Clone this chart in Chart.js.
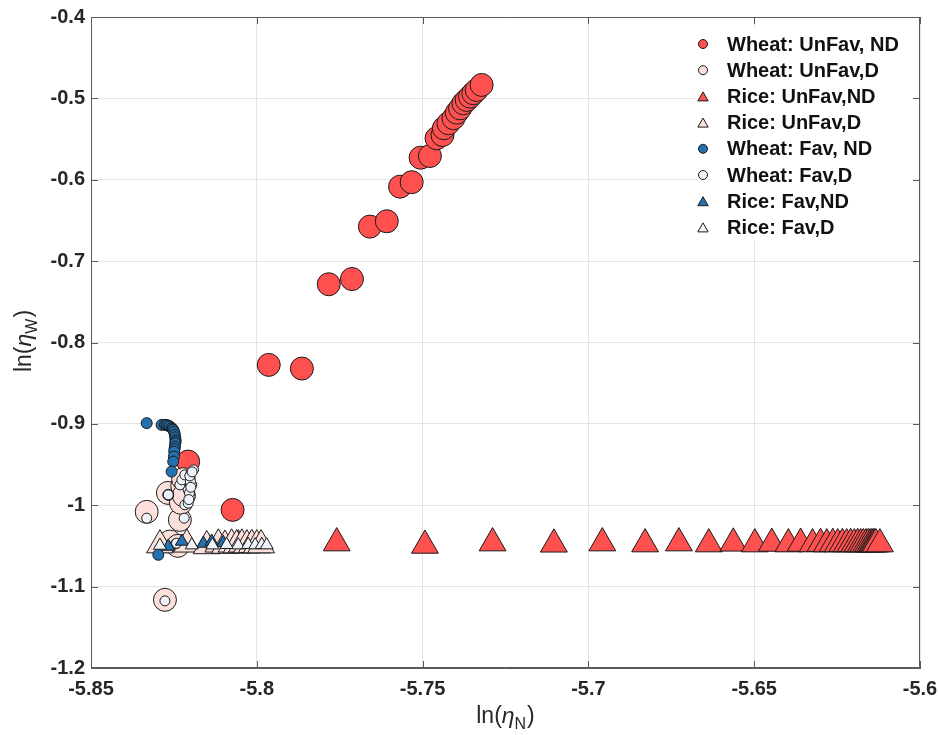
<!DOCTYPE html>
<html><head><meta charset="utf-8">
<script src="https://cdn.jsdelivr.net/npm/chart.js@4/dist/chart.umd.min.js"></script>
<style>html,body{margin:0;padding:0;background:#fff;}#wrap{width:938px;height:735px;}</style>
</head><body><div id="wrap"><canvas id="c" width="938" height="735"></canvas></div>
<script>
// ---- axis ticks ----
const xTicks = [-5.85, -5.8, -5.75, -5.7, -5.65, -5.6];
const yTicks = [-1.2, -1.1, -1, -0.9, -0.8, -0.7, -0.6, -0.5, -0.4];

// ---- series ----
const labels = ['Wheat: UnFav, ND','Wheat: UnFav,D','Rice: UnFav,ND','Rice: UnFav,D','Wheat: Fav, ND','Wheat: Fav,D','Rice: Fav,ND','Rice: Fav,D'];

const wheatUnfavND_x = [-5.8207,-5.8073,-5.7964,-5.7864,-5.7783,-5.7713,-5.7659,-5.7608,-5.7568,-5.7533,-5.7506,-5.7478,-5.7458,-5.7440,-5.7436,-5.7422,-5.7407,-5.7397,-5.7387,-5.7377,-5.7367,-5.7357,-5.7347,-5.7337,-5.7322];
const wheatUnfavND_y = [-0.9463,-1.0057,-0.8275,-0.8320,-0.7284,-0.7220,-0.6576,-0.6510,-0.6085,-0.6030,-0.5729,-0.5708,-0.5490,-0.5450,-0.5367,-0.5306,-0.5244,-0.5176,-0.5122,-0.5060,-0.5020,-0.4979,-0.4937,-0.4897,-0.4835];

const wheatUnfavD_x = [-5.8277,-5.8332,-5.8262,-5.8238,-5.8232,-5.8268,-5.8229,-5.8225,-5.8222,-5.8220];
const wheatUnfavD_y = [-1.1162,-1.0081,-1.0446,-1.0499,-1.0180,-0.9848,-0.9970,-0.9760,-0.9680,-0.9880];

const riceUnfavND_x = [-5.8056,-5.7759,-5.7493,-5.7289,-5.7104,-5.6958,-5.6829,-5.6727,-5.6637,-5.6563,-5.6498,-5.6447,-5.6397,-5.6360,-5.6324,-5.6300,-5.6281,-5.6263,-5.6248,-5.6234,-5.6221,-5.6209,-5.6198,-5.6188,-5.6179,-5.6171,-5.6163,-5.6156,-5.6150,-5.6145,-5.6141,-5.6137,-5.6133,-5.6121];
const riceUnfavND_y = [-1.0490,-1.0465,-1.0494,-1.0465,-1.0480,-1.0465,-1.0477,-1.0465,-1.0477,-1.0468,-1.0477,-1.0470,-1.0477,-1.0470,-1.0477,-1.0472,-1.0477,-1.0472,-1.0477,-1.0473,-1.0477,-1.0474,-1.0477,-1.0474,-1.0477,-1.0475,-1.0477,-1.0475,-1.0477,-1.0476,-1.0477,-1.0476,-1.0477,-1.0477];

const riceUnfavD_x = [-5.8292,-5.8211,-5.8151,-5.8116,-5.8096,-5.8076,-5.8061,-5.8045,-5.8030,-5.8015,-5.8000,-5.7987];
const riceUnfavD_y = [-1.0490,-1.0480,-1.0500,-1.0480,-1.0495,-1.0480,-1.0490,-1.0480,-1.0490,-1.0485,-1.0490,-1.0490];

const wheatFavND_x = [-5.8332,-5.8287,-5.8277,-5.8272,-5.8267,-5.8262,-5.8257,-5.8254,-5.8252,-5.8249,-5.8247,-5.8246,-5.8245,-5.8245,-5.8246,-5.8247,-5.8248,-5.8249,-5.8250,-5.8252,-5.8257,-5.8267,-5.8297];
const wheatFavND_y = [-0.8991,-0.9012,-0.9012,-0.9015,-0.9020,-0.9033,-0.9050,-0.9062,-0.9074,-0.9100,-0.9135,-0.9165,-0.9197,-0.9220,-0.9240,-0.9279,-0.9310,-0.9340,-0.9402,-0.9463,-0.9586,-0.9872,-1.0609];

const wheatFavD_x = [-5.8277,-5.8332,-5.8245,-5.8242,-5.8267,-5.8219,-5.8217,-5.8207,-5.8201,-5.8207,-5.8196,-5.8232,-5.8201,-5.8226,-5.8217,-5.8191,-5.8198,-5.8200,-5.8203,-5.8205,-5.8199,-5.8202,-5.8195];
const wheatFavD_y = [-1.1175,-1.0159,-1.0475,-1.0466,-0.9872,-1.0159,-0.9995,-0.9975,-0.9893,-0.9810,-0.9749,-0.9749,-0.9667,-0.9688,-0.9627,-0.9565,-0.9600,-0.9710,-0.9850,-0.9930,-0.9780,-0.9640,-0.9590];

const riceFavND_x = [-5.8267,-5.8226,-5.8161,-5.8136,-5.8101];
const riceFavND_y = [-1.0507,-1.0445,-1.0470,-1.0445,-1.0460];

const riceFavD_x = [-5.8292,-5.8196,-5.8134,-5.8091,-5.8056,-5.8026,-5.8005,-5.7985,-5.7970];
const riceFavD_y = [-1.0495,-1.0490,-1.0490,-1.0485,-1.0490,-1.0485,-1.0490,-1.0485,-1.0490];

// ---- styles ----
const RED = '#ff5050', PINK = '#fde0dc', BLUE = '#2471b0', WHITE = '#eff4fb', EDGE = '#1a1a1a';
const styles = [
  {style:'circle', r:11.5, fill:RED,  lr:4.5},
  {style:'circle', r:11.5, fill:PINK, lr:4.5},
  {style:'triangle', r:15.5, fill:RED,  lr:6},
  {style:'triangle', r:15.5, fill:PINK, lr:6},
  {style:'circle', r:5.5, fill:BLUE, lr:4.5},
  {style:'circle', r:5, fill:WHITE, lr:4.5},
  {style:'triangle', r:7.5, fill:BLUE, lr:6},
  {style:'triangle', r:7.5, fill:WHITE, lr:6}
];
const seriesX = [wheatUnfavND_x, wheatUnfavD_x, riceUnfavND_x, riceUnfavD_x, wheatFavND_x, wheatFavD_x, riceFavND_x, riceFavD_x];
const seriesY = [wheatUnfavND_y, wheatUnfavD_y, riceUnfavND_y, riceUnfavD_y, wheatFavND_y, wheatFavD_y, riceFavND_y, riceFavD_y];

const datasets = labels.map((lab, i) => ({
  label: lab,
  data: seriesX[i].map((x, k) => ({x: x, y: seriesY[i][k]})),
  pointStyle: styles[i].style,
  pointRadius: styles[i].r,
  pointHoverRadius: styles[i].r,
  pointBackgroundColor: styles[i].fill,
  pointBorderColor: EDGE,
  pointBorderWidth: 1,
  showLine: false,
  order: labels.length - 1 - i
}));

const FONT = "'Liberation Sans', Arial, sans-serif";
const AXIS = '#5a5a5a';

function markerPath(ctx, style, x, y, r) {
  ctx.beginPath();
  if (style === 'circle') {
    ctx.arc(x, y, r, 0, Math.PI * 2);
  } else {
    let a = 0;
    ctx.moveTo(x + Math.sin(a) * r, y - Math.cos(a) * r);
    a += 2 * Math.PI / 3;
    ctx.lineTo(x + Math.sin(a) * r, y - Math.cos(a) * r);
    a += 2 * Math.PI / 3;
    ctx.lineTo(x + Math.sin(a) * r, y - Math.cos(a) * r);
  }
  ctx.closePath();
}

function drawSubLabel(ctx, main, greek, sub, close) {
  ctx.font = '23px ' + FONT;
  ctx.fillText(main, 0, 0);
  let w = ctx.measureText(main).width;
  ctx.font = 'italic 23px ' + FONT;
  ctx.fillText(greek, w, 0);
  w += ctx.measureText(greek).width;
  ctx.font = '16px ' + FONT;
  ctx.fillText(sub, w, 6);
  w += ctx.measureText(sub).width + 1;
  ctx.font = '23px ' + FONT;
  ctx.fillText(close, w, 0);
}
function subLabelWidth(ctx, main, greek, sub, close) {
  ctx.font = '23px ' + FONT;
  let w = ctx.measureText(main).width + ctx.measureText(close).width;
  ctx.font = 'italic 23px ' + FONT;
  w += ctx.measureText(greek).width;
  ctx.font = '16px ' + FONT;
  w += ctx.measureText(sub).width + 1;
  return w;
}

const decor = {
  id: 'decor',
  afterDatasetsDraw(chart) {
    const ctx = chart.ctx;
    const a = chart.chartArea;
    const xs = chart.scales.x, ys = chart.scales.y;
    ctx.save();
    // frame
    ctx.strokeStyle = AXIS;
    ctx.lineWidth = 1;
    ctx.beginPath();
    ctx.rect(a.left + 0.5, a.top + 0.5, a.right - a.left - 1, a.bottom - a.top - 1);
    ctx.stroke();
    // inward ticks
    const TL = 7;
    ctx.beginPath();
    xTicks.forEach(v => {
      const px = Math.round(xs.getPixelForValue(v)) + 0.5;
      ctx.moveTo(px, a.bottom); ctx.lineTo(px, a.bottom - TL);
      ctx.moveTo(px, a.top); ctx.lineTo(px, a.top + TL);
    });
    yTicks.forEach(v => {
      const py = Math.round(ys.getPixelForValue(v)) + 0.5;
      ctx.moveTo(a.left, py); ctx.lineTo(a.left + TL, py);
      ctx.moveTo(a.right, py); ctx.lineTo(a.right - TL, py);
    });
    ctx.stroke();

    // legend
    const lx = 697, ly = 27, lw = 215, lh = 213;
    ctx.fillStyle = '#ffffff';
    ctx.fillRect(lx, ly, lw, lh);
    ctx.font = 'bold 20px ' + FONT;
    ctx.textBaseline = 'middle';
    ctx.textAlign = 'left';
    labels.forEach((lab, i) => {
      const cy = 44 + i * 26.2;
      const s = styles[i];
      markerPath(ctx, s.style, 703, s.style === 'triangle' ? cy + 1.5 : cy, s.lr);
      ctx.fillStyle = s.fill;
      ctx.fill();
      ctx.strokeStyle = EDGE;
      ctx.lineWidth = 1;
      ctx.stroke();
      ctx.fillStyle = '#111111';
      ctx.fillText(lab, 727, cy + 1);
    });

    // axis titles
    ctx.fillStyle = '#262626';
    ctx.textBaseline = 'alphabetic';
    ctx.textAlign = 'left';
    const wx = subLabelWidth(ctx, 'ln(', '\u03b7', 'N', ')');
    ctx.save();
    ctx.translate((a.left + a.right) / 2 - wx / 2, 723);
    drawSubLabel(ctx, 'ln(', '\u03b7', 'N', ')');
    ctx.restore();
    const wy = subLabelWidth(ctx, 'ln(', '\u03b7', 'W', ')');
    ctx.save();
    ctx.translate(31, 341 + wy / 2);
    ctx.rotate(-Math.PI / 2);
    drawSubLabel(ctx, 'ln(', '\u03b7', 'W', ')');
    ctx.restore();
    ctx.restore();
  }
};

new Chart(document.getElementById('c'), {
  type: 'scatter',
  data: { datasets: datasets },
  options: {
    responsive: false,
    animation: false,
    events: [],
    layout: { padding: { left: 0, top: 17, right: 18, bottom: 0 } },
    plugins: { legend: { display: false }, tooltip: { enabled: false } },
    scales: {
      x: {
        type: 'linear',
        min: -5.85, max: -5.6,
        afterBuildTicks(scale) { scale.ticks = xTicks.map(v => ({value: v})); },
        afterFit(scale) { scale.height = 67; scale.paddingLeft = 0; scale.paddingRight = 0; },
        grid: { color: '#e4e4e4', lineWidth: 1, drawTicks: false },
        border: { display: true, color: AXIS },
        ticks: {
          padding: 9,
          maxRotation: 0,
          autoSkip: false,
          color: '#262626',
          font: { family: FONT, size: 20, weight: 'bold' },
          callback: v => String(Math.round(v * 100) / 100)
        }
      },
      y: {
        type: 'linear',
        min: -1.2, max: -0.4,
        afterBuildTicks(scale) { scale.ticks = yTicks.map(v => ({value: v})); },
        afterFit(scale) { scale.width = 91; scale.paddingTop = 0; scale.paddingBottom = 0; },
        grid: { color: '#e4e4e4', lineWidth: 1, drawTicks: false },
        border: { display: true, color: AXIS },
        ticks: {
          padding: 6,
          autoSkip: false,
          color: '#262626',
          font: { family: FONT, size: 20, weight: 'bold' },
          callback: v => String(Math.round(v * 10) / 10)
        }
      }
    }
  },
  plugins: [decor]
});
</script></body></html>
